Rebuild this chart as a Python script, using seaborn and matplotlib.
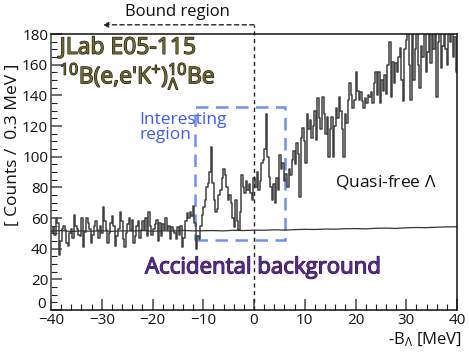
import numpy as np
import pandas as pd
import seaborn as sns
import matplotlib.pyplot as plt
import matplotlib.patheffects as pe
from matplotlib.patches import Rectangle
from matplotlib.ticker import MultipleLocator

# counts per 0.3 MeV bin, starting at -B_Lambda = -40 MeV (10 bins = 3 MeV per row)
counts = [
    51, 54, 49, 60, 57, 36, 45, 53, 55, 52,
    44, 42, 50, 53, 47, 62, 55, 53, 49, 48,
    60, 41, 51, 60, 57, 53, 44, 49, 55, 58,
    52, 47, 55, 50, 67, 58, 52, 44, 50, 57,
    61, 55, 42, 48, 53, 64, 58, 46, 41, 50,
    56, 60, 52, 59, 44, 48, 55, 58, 47, 52,
    58, 52, 60, 48, 64, 55, 49, 53, 56, 59,
    45, 57, 48, 56, 52, 60, 52, 55, 46, 54,
    52, 50, 46, 54, 49, 55, 41, 47, 58, 63,
    60, 64, 61, 68, 57, 40, 48, 46, 55, 62,
    67, 72, 80, 83, 90, 106, 83, 72, 64, 66,
    75, 78, 86, 92, 88, 80, 72, 75, 70, 60,
    54, 72, 58, 52, 64, 88, 80, 76, 84, 78,
    82, 76, 72, 86, 80, 90, 78, 84, 96, 98,
    105, 128, 100, 87, 80, 72, 82, 70, 86, 78,
    101, 92, 96, 84, 89, 80, 92, 88, 98, 104,
    95, 109, 102, 74, 112, 119, 110, 96, 128, 118,
    124, 112, 120, 130, 111, 138, 125, 118, 139, 128,
    115, 126, 100, 118, 126, 100, 120, 132, 125, 139,
    130, 118, 100, 128, 122, 137, 148, 140, 132, 137,
    155, 143, 137, 142, 136, 132, 138, 135, 140, 139,
    142, 135, 148, 155, 140, 155, 135, 150, 143, 153,
    141, 160, 175, 139, 162, 148, 161, 155, 165, 171,
    150, 136, 170, 176, 185, 160, 137, 182, 150, 170,
    185, 160, 145, 172, 165, 180, 155, 168, 185, 161,
    182, 170, 185, 139, 175, 188, 158, 172, 185, 170,
    160, 182, 175, 186, 165, 178, 155,
]

# accidental background, every 2 MeV from -40 to 40
bg_x = list(range(-40, 41, 2))
bg_y = [51.5, 51.8, 51.2, 51.6, 51.4, 51.7, 51.3, 51.6, 51.5, 51.8,
        51.4, 51.6, 51.5, 51.9, 51.6, 51.7, 51.8, 51.6, 52.0, 51.8,
        52.1, 52.0, 52.3, 52.1, 52.4, 52.6, 52.5, 52.8, 52.7, 53.0,
        53.1, 52.9, 53.3, 53.4, 53.2, 53.6, 53.8, 53.7, 54.0, 54.2, 54.3]

y_ticks = [0, 20, 40, 60, 80, 100, 120, 140, 160, 180]

bin_width = 0.3
edges = -40 + bin_width * np.arange(len(counts) + 1)
# step outline: each value held from its left edge to the next edge
hist = pd.DataFrame({'edge': edges, 'counts': counts + counts[-1:]})

sns.set_style('white')
plt.rcParams['font.family'] = ['Open Sans', 'DejaVu Sans']
plt.rcParams['mathtext.fontset'] = 'custom'
plt.rcParams['mathtext.rm'] = 'Open Sans'
plt.rcParams['mathtext.it'] = 'Open Sans'

fig = plt.figure(figsize=(4.69, 3.57), dpi=100)
ax = fig.add_axes([51 / 469, 47 / 357, 406 / 469, 276 / 357])

sns.lineplot(data=hist, x='edge', y='counts', estimator=None, drawstyle='steps-post',
             color='#404040', linewidth=1.1, ax=ax)
sns.lineplot(x=bg_x, y=bg_y, color='#333333', linewidth=0.9, ax=ax)

ax.set_xlim(-40, 40)
ax.set_ylim(0, 180)
ax.set_xlabel('')
ax.set_ylabel('')

ax.xaxis.set_major_locator(MultipleLocator(10))
ax.xaxis.set_minor_locator(MultipleLocator(2))
ax.set_yticks(y_ticks)
# the "0" is drawn separately, lifted a little above the "-40"
ax.set_yticklabels([''] + [str(t) for t in y_ticks[1:]])
ax.yaxis.set_minor_locator(MultipleLocator(5))
ax.tick_params(axis='both', which='major', direction='in', length=8, width=1.2,
               color='#555555', labelsize=11, labelcolor='#111111')
ax.tick_params(axis='y', which='major', pad=2)
ax.tick_params(axis='x', which='major', pad=2)
ax.tick_params(axis='both', which='minor', direction='in', length=4, width=0.8,
               color='#222222')
ax.tick_params(axis='x', which='both', top=False, bottom=True)
ax.tick_params(axis='y', which='both', right=False, left=True)
for s in ax.spines.values():
    s.set_color('#111111')
    s.set_linewidth(1.1)
ax.spines['left'].set_color('#444444')

ax.annotate(str(y_ticks[0]), xy=(0, 0), xycoords='axes fraction', xytext=(-3.5, 4),
            textcoords='offset points', ha='right', va='center', fontsize=11,
            color='#111111', annotation_clip=False)

# interesting region box
ax.add_patch(Rectangle((-11.6, 45.7), 17.7, 86.7, fill=False, edgecolor='#6f8ff5',
                       linewidth=1.8, linestyle=(0, (5, 3))))

# bound region marker
ax.plot([0, 0], [0, 186], color='#222222', linestyle=(0, (3, 2.5)), linewidth=1.0,
        clip_on=False)
ax.annotate('', xy=(-29.8, 186), xytext=(0, 186),
            arrowprops=dict(arrowstyle='-|>', linestyle=(0, (3, 2.5)), color='#222222',
                            linewidth=1.0, mutation_scale=8, shrinkA=0, shrinkB=0),
            annotation_clip=False)
ax.text(-15.1, 194.5, 'Bound region', fontsize=12, ha='center', va='center',
        color='#111111', clip_on=False)

outline = [pe.withStroke(linewidth=0.9, foreground='#1a1a1a')]
ax.text(-38.3, 171, 'JLab E05-115', fontsize=16.5, color='#716b26', ha='left',
        va='center', path_effects=outline)
ax.text(-38.3, 152.5, r"$^{10}$B(e,e'K$^{+}$)$^{10}_{\Lambda}$Be", fontsize=16.5,
        color='#716b26', ha='left', va='center', path_effects=outline)

ax.text(-22.6, 119, 'Interesting\nregion', fontsize=12.5, color='#3d5cf5',
        ha='left', va='center', linespacing=0.95)
ax.text(16.0, 83.5, r'Quasi-free $\Lambda$', fontsize=12.5, color='#111111',
        ha='left', va='center')
ax.text(1.8, 27.5, 'Accidental background', fontsize=16, color='#5b2a91',
        ha='center', va='center',
        path_effects=[pe.withStroke(linewidth=0.8, foreground='#2a1040')])

fig.text(13 / 469, 1 - 145 / 357, '[ Counts /  0.3 MeV ]', rotation=90,
         fontsize=12.5, ha='center', va='center', color='#111111')
fig.text(462 / 469, 1 - 340 / 357, r'-B$_{\Lambda}$ [MeV]', fontsize=12,
         ha='right', va='center', color='#111111')

plt.savefig('out.png', dpi=100)
plt.close()
